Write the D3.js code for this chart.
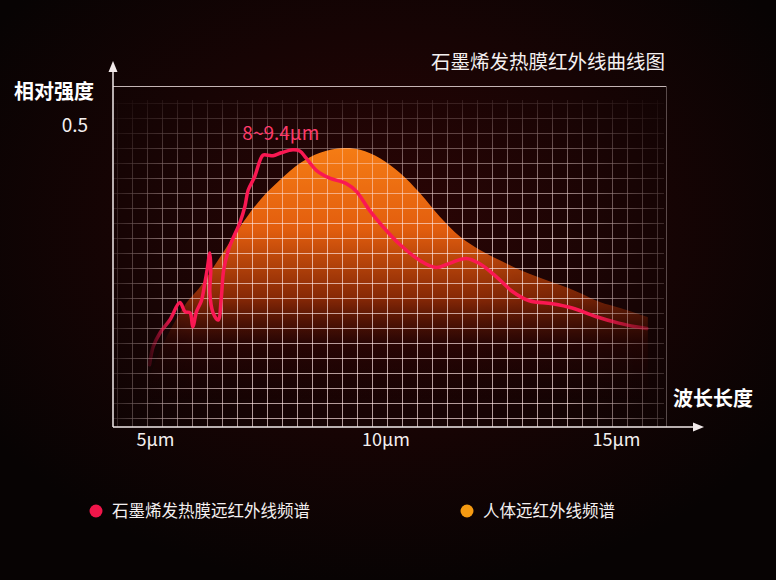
<!DOCTYPE html>
<html>
<head>
<meta charset="utf-8">
<script src="https://cdn.jsdelivr.net/npm/d3@7"></script>
<style>
  html, body { margin: 0; padding: 0; background: #0a0404; }
  svg { display: block; }
  text { font-family: "Noto Sans CJK SC", "Noto Sans", sans-serif; }
</style>
</head>
<body>
<svg id="chart"></svg>
<script>
// Tick values
const xTicks = [5, 10, 15];
const yTicks = [0.5];

// Graphene heating film spectrum (wavelength in μm, relative intensity)
const filmWave = [4.88, 4.96, 5.11, 5.32, 5.54, 5.65, 5.76, 5.82, 5.90, 6.01, 6.08, 6.13, 6.19, 6.21, 6.19, 6.26,
  6.37, 6.44, 6.49, 6.62, 6.84, 6.95, 7.02, 7.16, 7.34, 7.45, 7.56, 7.74, 7.99, 8.14, 8.28, 8.50, 8.79, 9.15,
  9.37, 9.65, 9.94, 10.30, 10.74, 11.10, 11.39, 11.75, 12.03, 12.40, 12.76, 13.12, 13.62, 14.05, 14.56, 15.06,
  15.43, 15.67];
const filmValue = [0.103, 0.133, 0.156, 0.177, 0.206, 0.191, 0.189, 0.166, 0.191, 0.210, 0.238, 0.260, 0.288, 0.260,
  0.222, 0.189, 0.177, 0.216, 0.260, 0.299, 0.338, 0.365, 0.392, 0.414, 0.450, 0.450, 0.449, 0.454, 0.459, 0.457,
  0.445, 0.425, 0.412, 0.403, 0.390, 0.359, 0.332, 0.303, 0.276, 0.264, 0.271, 0.279, 0.271, 0.249, 0.224, 0.209,
  0.204, 0.197, 0.183, 0.172, 0.166, 0.163];

// Human body spectrum
const bodyWave = [4.89, 5.22, 5.65, 5.98, 6.41, 6.84, 7.28, 7.71, 8.15, 8.58, 9.08, 9.45, 9.88, 10.31, 10.75,
  11.18, 11.62, 12.05, 12.48, 12.92, 13.35, 13.79, 14.22, 14.65, 15.09, 15.69];
const bodyValue = [0.086, 0.144, 0.202, 0.232, 0.281, 0.331, 0.376, 0.409, 0.437, 0.454, 0.462, 0.459, 0.445, 0.421,
  0.387, 0.348, 0.315, 0.293, 0.276, 0.260, 0.247, 0.235, 0.222, 0.207, 0.197, 0.182];

const legendLabels = ["石墨烯发热膜远红外线频谱", "人体远红外线频谱"];
const peakLabel = "8~9.4μm";

const W = 776, H = 580;
const plot = { left: 113, right: 666, top: 86, bottom: 427 };

const svg = d3.select("#chart").attr("width", W).attr("height", H);
const defs = svg.append("defs");

// Scales
const x = d3.scaleLinear().domain([5, 15]).range([155, 616]);
const y = d3.scaleLinear().domain([0, 0.5]).range([plot.bottom, 125]);

// Background
const bg = defs.append("radialGradient").attr("id", "bg")
  .attr("cx", 0.5).attr("cy", 0.4).attr("r", 0.62);
bg.append("stop").attr("offset", 0).attr("stop-color", "#2c0505");
bg.append("stop").attr("offset", 0.55).attr("stop-color", "#170404");
bg.append("stop").attr("offset", 1).attr("stop-color", "#070303");
svg.append("rect").attr("width", W).attr("height", H).attr("fill", "url(#bg)");

// Area fill gradient for body spectrum
const bodyFill = defs.append("linearGradient").attr("id", "bodyFill")
  .attr("gradientUnits", "userSpaceOnUse")
  .attr("x1", 0).attr("y1", y(0.462)).attr("x2", 0).attr("y2", plot.bottom);
[[0, "#f57c14", 1], [0.29, "#e35e0e", 1], [0.54, "#8c2a06", 0.95], [0.7, "#2e0604", 0.7], [0.9, "#1a0303", 0]]
  .forEach(s => bodyFill.append("stop").attr("offset", s[0]).attr("stop-color", s[1]).attr("stop-opacity", s[2]));

// Horizontal fade mask for area edges
const areaH = defs.append("linearGradient").attr("id", "areaH")
  .attr("gradientUnits", "userSpaceOnUse").attr("x1", plot.left).attr("x2", plot.right).attr("y1", 0).attr("y2", 0);
[[0, 0.3], [0.15, 1], [0.65, 1], [1, 0.7]]
  .forEach(s => areaH.append("stop").attr("offset", s[0]).attr("stop-color", "#fff").attr("stop-opacity", s[1]));
defs.append("mask").attr("id", "areaMask").attr("maskUnits", "userSpaceOnUse")
  .attr("x", 0).attr("y", 0).attr("width", W).attr("height", H)
  .append("rect").attr("width", W).attr("height", H).attr("fill", "url(#areaH)");

// Grid fade masks
const gridH = defs.append("linearGradient").attr("id", "gridH")
  .attr("gradientUnits", "userSpaceOnUse").attr("x1", plot.left).attr("x2", plot.right).attr("y1", 0).attr("y2", 0);
[[0, 0.2], [0.1, 0.7], [0.25, 1], [0.82, 1], [1, 0.25]]
  .forEach(s => gridH.append("stop").attr("offset", s[0]).attr("stop-color", "#fff").attr("stop-opacity", s[1]));
const gridV = defs.append("linearGradient").attr("id", "gridV")
  .attr("gradientUnits", "userSpaceOnUse").attr("x1", 0).attr("x2", 0).attr("y1", plot.top).attr("y2", plot.bottom);
[[0, 0.05], [0.25, 0.7], [0.45, 1], [1, 1]]
  .forEach(s => gridV.append("stop").attr("offset", s[0]).attr("stop-color", "#fff").attr("stop-opacity", s[1]));
["gridH", "gridV"].forEach(id => {
  defs.append("mask").attr("id", id + "Mask").attr("maskUnits", "userSpaceOnUse")
    .attr("x", 0).attr("y", 0).attr("width", W).attr("height", H)
    .append("rect").attr("width", W).attr("height", H).attr("fill", "url(#" + id + ")");
});

// Body spectrum area
const bodyData = bodyWave.map((w, i) => ({ w, v: bodyValue[i] }));
const area = d3.area()
  .x(d => x(d.w))
  .y0(y(0))
  .y1(d => y(d.v))
  .curve(d3.curveCatmullRom);
svg.append("g").attr("mask", "url(#areaMask)")
  .append("path")
  .datum(bodyData)
  .attr("d", area)
  .attr("fill", "url(#bodyFill)");

// Grid
const gridOuter = svg.append("g").attr("mask", "url(#gridVMask)");
const grid = gridOuter.append("g").attr("mask", "url(#gridHMask)")
  .attr("stroke", "rgba(255,230,228,0.68)").attr("stroke-width", 1);
grid.selectAll("line.v").data(d3.range(117, 665, 15)).enter().append("line")
  .attr("class", "v").attr("x1", d => d + 0.5).attr("x2", d => d + 0.5)
  .attr("y1", 100).attr("y2", plot.bottom);
grid.selectAll("line.h").data(d3.range(103, 426, 15)).enter().append("line")
  .attr("class", "h").attr("y1", d => d + 0.5).attr("y2", d => d + 0.5)
  .attr("x1", plot.left).attr("x2", 664);

// Film spectrum line
const filmData = filmWave.map((w, i) => ({ w, v: filmValue[i] }));
const lineGrad = defs.append("linearGradient").attr("id", "lineGrad")
  .attr("gradientUnits", "userSpaceOnUse")
  .attr("x1", x(filmWave[0])).attr("x2", x(filmWave[filmWave.length - 1])).attr("y1", 0).attr("y2", 0);
[[0, 0.15], [0.05, 1], [0.88, 1], [1, 0.35]]
  .forEach(s => lineGrad.append("stop").attr("offset", s[0]).attr("stop-color", "#fa1852").attr("stop-opacity", s[1]));
const line = d3.line()
  .x(d => x(d.w))
  .y(d => y(d.v))
  .curve(d3.curveCatmullRom.alpha(0.5));
svg.append("path")
  .datum(filmData)
  .attr("d", line)
  .attr("fill", "none")
  .attr("stroke", "url(#lineGrad)")
  .attr("stroke-width", 3.5)
  .attr("stroke-linejoin", "round")
  .attr("stroke-linecap", "round");

// Peak annotation
svg.append("text")
  .attr("x", x(7.73)).attr("y", 140)
  .attr("text-anchor", "middle")
  .attr("font-size", 19)
  .attr("fill", "#ff3a6a")
  .text(peakLabel);

// Frame lines
svg.append("line").attr("x1", plot.left).attr("x2", plot.right).attr("y1", plot.top + 0.5).attr("y2", plot.top + 0.5)
  .attr("stroke", "rgba(255,240,240,0.75)").attr("stroke-width", 1);
svg.append("line").attr("x1", plot.right + 0.5).attr("x2", plot.right + 0.5).attr("y1", plot.top).attr("y2", plot.bottom)
  .attr("stroke", "rgba(255,240,240,0.3)").attr("stroke-width", 1);

// Axes lines with arrows
svg.append("line").attr("x1", plot.left).attr("x2", plot.left).attr("y1", plot.bottom).attr("y2", 68)
  .attr("stroke", "#f2eaea").attr("stroke-width", 1.5);
svg.append("path").attr("d", `M${plot.left},61 L${plot.left - 4.5},72 L${plot.left + 4.5},72 Z`).attr("fill", "#f2eaea");
svg.append("line").attr("x1", plot.left).attr("x2", 697).attr("y1", plot.bottom).attr("y2", plot.bottom)
  .attr("stroke", "#f2eaea").attr("stroke-width", 1.5);
svg.append("path").attr("d", `M704,${plot.bottom} L693,${plot.bottom - 4.5} L693,${plot.bottom + 4.5} Z`).attr("fill", "#f2eaea");

// X axis labels
const xAxis = svg.append("g")
  .attr("transform", `translate(0,${plot.bottom})`)
  .call(d3.axisBottom(x).tickValues(xTicks).tickSize(0).tickPadding(6).tickFormat(d => d + "μm"));
xAxis.select(".domain").remove();
xAxis.selectAll("text").attr("font-size", 18).attr("fill", "#f4f0f0")
  .attr("font-family", "\"Noto Sans\", \"Noto Sans CJK SC\", sans-serif");

// Y axis label
const yAxis = svg.append("g")
  .attr("transform", `translate(${plot.left},0)`)
  .call(d3.axisLeft(y).tickValues(yTicks).tickSize(0).tickPadding(25).tickFormat(d3.format(".1f")));
yAxis.select(".domain").remove();
yAxis.selectAll("text").attr("font-size", 19).attr("fill", "#f4f0f0")
  .attr("font-family", "\"Noto Sans\", sans-serif");

// Axis titles and chart title
svg.append("text").attr("x", 14).attr("y", 99).attr("font-size", 20).attr("font-weight", "bold")
  .attr("fill", "#ffffff").text("相对强度");
svg.append("text").attr("x", 673).attr("y", 406).attr("font-size", 20).attr("font-weight", "bold")
  .attr("fill", "#ffffff").text("波长长度");
svg.append("text").attr("x", 665).attr("y", 69).attr("text-anchor", "end").attr("font-size", 19.5)
  .attr("fill", "#f4f0f0").text("石墨烯发热膜红外线曲线图");

// Legend
const legendColors = ["#f0164a", "#f59a12"];
const legendX = [96, 467];
const legend = svg.selectAll("g.legend").data(legendLabels).enter().append("g")
  .attr("class", "legend")
  .attr("transform", (d, i) => `translate(${legendX[i]},511)`);
legend.append("circle").attr("r", 6.5).attr("fill", (d, i) => legendColors[i]);
legend.append("text").attr("x", 16).attr("y", 6).attr("font-size", 16.5).attr("fill", "#f4f0f0").text(d => d);
</script>
</body>
</html>
